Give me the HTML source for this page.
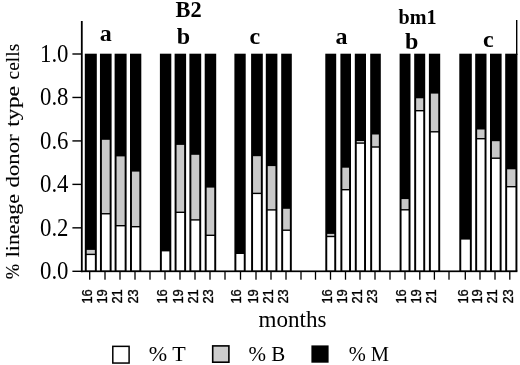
<!DOCTYPE html>
<html><head><meta charset="utf-8"><style>html,body{margin:0;padding:0;background:#fff}svg{display:block;filter:blur(0.3px)}.sf{font-family:"Liberation Serif",serif}.ss{font-family:"Liberation Sans",sans-serif}</style></head><body>
<svg width="520" height="365" viewBox="0 0 520 365">
<rect width="520" height="365" fill="#fff"/>
<rect x="84.8" y="53.7" width="12.00" height="217.60" fill="#000"/>
<rect x="86.75" y="255.10" width="8.10" height="15.60" fill="#fff"/>
<rect x="86.75" y="249.90" width="8.10" height="3.80" fill="#c9c9c9"/>
<rect x="99.95" y="53.7" width="11.65" height="217.60" fill="#000"/>
<rect x="101.90" y="214.45" width="7.75" height="56.25" fill="#fff"/>
<rect x="101.90" y="139.80" width="7.75" height="73.25" fill="#c9c9c9"/>
<rect x="114.6" y="53.7" width="12.00" height="217.60" fill="#000"/>
<rect x="116.55" y="226.40" width="8.10" height="44.30" fill="#fff"/>
<rect x="116.55" y="156.40" width="8.10" height="68.60" fill="#c9c9c9"/>
<rect x="130.0" y="53.7" width="11.30" height="217.60" fill="#000"/>
<rect x="131.95" y="227.40" width="7.40" height="43.30" fill="#fff"/>
<rect x="131.95" y="171.60" width="7.40" height="54.40" fill="#c9c9c9"/>
<rect x="159.9" y="53.7" width="11.40" height="217.60" fill="#000"/>
<rect x="161.85" y="251.40" width="7.50" height="19.30" fill="#fff"/>
<rect x="174.6" y="53.7" width="11.50" height="217.60" fill="#000"/>
<rect x="176.55" y="213.00" width="7.60" height="57.70" fill="#fff"/>
<rect x="176.55" y="144.90" width="7.60" height="66.70" fill="#c9c9c9"/>
<rect x="189.4" y="53.7" width="11.80" height="217.60" fill="#000"/>
<rect x="191.35" y="220.60" width="7.90" height="50.10" fill="#fff"/>
<rect x="191.35" y="154.80" width="7.90" height="64.40" fill="#c9c9c9"/>
<rect x="204.7" y="53.7" width="11.50" height="217.60" fill="#000"/>
<rect x="206.65" y="236.00" width="7.60" height="34.70" fill="#fff"/>
<rect x="206.65" y="187.60" width="7.60" height="47.00" fill="#c9c9c9"/>
<rect x="234.4" y="53.7" width="11.30" height="217.60" fill="#000"/>
<rect x="236.35" y="254.00" width="7.40" height="16.70" fill="#fff"/>
<rect x="251.1" y="53.7" width="11.70" height="217.60" fill="#000"/>
<rect x="253.05" y="194.10" width="7.80" height="76.60" fill="#fff"/>
<rect x="253.05" y="156.20" width="7.80" height="36.50" fill="#c9c9c9"/>
<rect x="265.8" y="53.7" width="11.60" height="217.60" fill="#000"/>
<rect x="267.75" y="210.60" width="7.70" height="60.10" fill="#fff"/>
<rect x="267.75" y="166.10" width="7.70" height="43.10" fill="#c9c9c9"/>
<rect x="281.2" y="53.7" width="10.60" height="217.60" fill="#000"/>
<rect x="283.15" y="230.90" width="6.70" height="39.80" fill="#fff"/>
<rect x="283.15" y="208.80" width="6.70" height="20.70" fill="#c9c9c9"/>
<rect x="325.3" y="53.7" width="10.90" height="217.60" fill="#000"/>
<rect x="327.25" y="237.20" width="7.00" height="33.50" fill="#fff"/>
<rect x="327.25" y="233.90" width="7.00" height="1.90" fill="#c9c9c9"/>
<rect x="340.4" y="53.7" width="10.60" height="217.60" fill="#000"/>
<rect x="342.35" y="190.40" width="6.70" height="80.30" fill="#fff"/>
<rect x="342.35" y="167.70" width="6.70" height="21.30" fill="#c9c9c9"/>
<rect x="354.8" y="53.7" width="11.20" height="217.60" fill="#000"/>
<rect x="356.75" y="143.80" width="7.30" height="126.90" fill="#fff"/>
<rect x="356.75" y="141.00" width="7.30" height="1.40" fill="#c9c9c9"/>
<rect x="370.2" y="53.7" width="10.60" height="217.60" fill="#000"/>
<rect x="372.15" y="147.70" width="6.70" height="123.00" fill="#fff"/>
<rect x="372.15" y="134.50" width="6.70" height="11.80" fill="#c9c9c9"/>
<rect x="399.6" y="53.7" width="10.90" height="217.60" fill="#000"/>
<rect x="401.55" y="210.50" width="7.00" height="60.20" fill="#fff"/>
<rect x="401.55" y="199.10" width="7.00" height="10.00" fill="#c9c9c9"/>
<rect x="414.2" y="53.7" width="11.00" height="217.60" fill="#000"/>
<rect x="416.15" y="111.40" width="7.10" height="159.30" fill="#fff"/>
<rect x="416.15" y="98.30" width="7.10" height="11.70" fill="#c9c9c9"/>
<rect x="428.9" y="53.7" width="11.30" height="217.60" fill="#000"/>
<rect x="430.85" y="132.50" width="7.40" height="138.20" fill="#fff"/>
<rect x="430.85" y="93.60" width="7.40" height="37.50" fill="#c9c9c9"/>
<rect x="459.3" y="53.7" width="12.50" height="217.60" fill="#000"/>
<rect x="461.25" y="239.60" width="8.60" height="31.10" fill="#fff"/>
<rect x="475.2" y="53.7" width="11.30" height="217.60" fill="#000"/>
<rect x="477.15" y="139.40" width="7.40" height="131.30" fill="#fff"/>
<rect x="477.15" y="129.50" width="7.40" height="8.50" fill="#c9c9c9"/>
<rect x="490.0" y="53.7" width="11.60" height="217.60" fill="#000"/>
<rect x="491.95" y="158.90" width="7.70" height="111.80" fill="#fff"/>
<rect x="491.95" y="141.20" width="7.70" height="16.30" fill="#c9c9c9"/>
<rect x="505.2" y="53.7" width="12.20" height="217.60" fill="#000"/>
<rect x="507.15" y="187.40" width="8.30" height="83.30" fill="#fff"/>
<rect x="507.15" y="169.30" width="8.30" height="16.70" fill="#c9c9c9"/>
<rect x="80.9" y="21" width="1.8" height="251.15" fill="#000"/>
<rect x="80.9" y="270.45" width="436.50" height="1.7" fill="#000"/>
<rect x="516" y="20" width="1.4" height="35" fill="#000"/>
<rect x="89.05" y="271.3" width="1.3" height="8.4" fill="#000"/>
<rect x="104.35" y="271.3" width="1.3" height="8.4" fill="#000"/>
<rect x="119.35" y="271.3" width="1.3" height="8.4" fill="#000"/>
<rect x="134.35" y="271.3" width="1.3" height="8.4" fill="#000"/>
<rect x="149.35" y="271.3" width="1.3" height="8.4" fill="#000"/>
<rect x="164.35" y="271.3" width="1.3" height="8.4" fill="#000"/>
<rect x="179.35" y="271.3" width="1.3" height="8.4" fill="#000"/>
<rect x="194.35" y="271.3" width="1.3" height="8.4" fill="#000"/>
<rect x="209.35" y="271.3" width="1.3" height="8.4" fill="#000"/>
<rect x="224.35" y="271.3" width="1.3" height="8.4" fill="#000"/>
<rect x="239.85" y="271.3" width="1.3" height="8.4" fill="#000"/>
<rect x="255.35" y="271.3" width="1.3" height="8.4" fill="#000"/>
<rect x="270.35" y="271.3" width="1.3" height="8.4" fill="#000"/>
<rect x="285.35" y="271.3" width="1.3" height="8.4" fill="#000"/>
<rect x="300.35" y="271.3" width="1.3" height="8.4" fill="#000"/>
<rect x="314.85" y="271.3" width="1.3" height="8.4" fill="#000"/>
<rect x="329.85" y="271.3" width="1.3" height="8.4" fill="#000"/>
<rect x="344.85" y="271.3" width="1.3" height="8.4" fill="#000"/>
<rect x="359.35" y="271.3" width="1.3" height="8.4" fill="#000"/>
<rect x="374.35" y="271.3" width="1.3" height="8.4" fill="#000"/>
<rect x="389.35" y="271.3" width="1.3" height="8.4" fill="#000"/>
<rect x="404.35" y="271.3" width="1.3" height="8.4" fill="#000"/>
<rect x="419.15" y="271.3" width="1.3" height="8.4" fill="#000"/>
<rect x="433.75" y="271.3" width="1.3" height="8.4" fill="#000"/>
<rect x="448.35" y="271.3" width="1.3" height="8.4" fill="#000"/>
<rect x="464.65" y="271.3" width="1.3" height="8.4" fill="#000"/>
<rect x="479.35" y="271.3" width="1.3" height="8.4" fill="#000"/>
<rect x="494.35" y="271.3" width="1.3" height="8.4" fill="#000"/>
<rect x="509.15" y="271.3" width="1.3" height="8.4" fill="#000"/>
<rect x="72.4" y="270.60" width="9" height="1.4" fill="#000"/>
<text transform="translate(40.0,279.10) scale(1,1.10)" class="sf" font-size="22.8">0.0</text>
<rect x="72.4" y="227.14" width="9" height="1.4" fill="#000"/>
<text transform="translate(40.0,235.64) scale(1,1.10)" class="sf" font-size="22.8">0.2</text>
<rect x="72.4" y="183.68" width="9" height="1.4" fill="#000"/>
<text transform="translate(40.0,192.18) scale(1,1.10)" class="sf" font-size="22.8">0.4</text>
<rect x="72.4" y="140.22" width="9" height="1.4" fill="#000"/>
<text transform="translate(40.0,148.72) scale(1,1.10)" class="sf" font-size="22.8">0.6</text>
<rect x="72.4" y="96.76" width="9" height="1.4" fill="#000"/>
<text transform="translate(40.0,105.26) scale(1,1.10)" class="sf" font-size="22.8">0.8</text>
<rect x="72.4" y="53.30" width="9" height="1.4" fill="#000"/>
<text transform="translate(40.0,61.80) scale(1,1.10)" class="sf" font-size="22.8">1.0</text>
<text transform="translate(18.6,279.3) rotate(-90)" class="sf" font-size="18" textLength="15.4" stroke="#000" stroke-width="0.12" lengthAdjust="spacingAndGlyphs">%</text>
<text transform="translate(18.6,257.2) rotate(-90)" class="sf" font-size="18" textLength="63.1" stroke="#000" stroke-width="0.12" lengthAdjust="spacingAndGlyphs">lineage</text>
<text transform="translate(18.6,187.4) rotate(-90)" class="sf" font-size="18" textLength="53.1" stroke="#000" stroke-width="0.12" lengthAdjust="spacingAndGlyphs">donor</text>
<text transform="translate(18.6,126.7) rotate(-90)" class="sf" font-size="18" textLength="40.7" stroke="#000" stroke-width="0.12" lengthAdjust="spacingAndGlyphs">type</text>
<text transform="translate(18.6,79.4) rotate(-90)" class="sf" font-size="18" textLength="35.6" stroke="#000" stroke-width="0.12" lengthAdjust="spacingAndGlyphs">cells</text>
<text transform="translate(175.5,17.4) scale(1,1.06)" class="sf" font-weight="bold" font-size="22.4">B2</text>
<text x="398.6" y="23.8" class="sf" font-weight="bold" font-size="22" textLength="38" lengthAdjust="spacingAndGlyphs">bm1</text>
<text x="99.8" y="41" class="sf" font-weight="bold" font-size="24">a</text>
<text x="176.8" y="44.3" class="sf" font-weight="bold" font-size="24">b</text>
<text x="249.4" y="43.8" class="sf" font-weight="bold" font-size="24">c</text>
<text x="335.4" y="43.8" class="sf" font-weight="bold" font-size="24">a</text>
<text x="405.0" y="49.2" class="sf" font-weight="bold" font-size="24">b</text>
<text x="483.0" y="46.8" class="sf" font-weight="bold" font-size="24">c</text>
<text transform="translate(91.5,303.6) rotate(-90)" class="ss" font-size="14.5" textLength="14.4" stroke="#000" stroke-width="0.32" lengthAdjust="spacingAndGlyphs">16</text>
<text transform="translate(107,303.6) rotate(-90)" class="ss" font-size="14.5" textLength="14.4" stroke="#000" stroke-width="0.32" lengthAdjust="spacingAndGlyphs">19</text>
<text transform="translate(122.4,303.6) rotate(-90)" class="ss" font-size="14.5" textLength="14.4" stroke="#000" stroke-width="0.32" lengthAdjust="spacingAndGlyphs">21</text>
<text transform="translate(137.5,303.6) rotate(-90)" class="ss" font-size="14.5" textLength="14.4" stroke="#000" stroke-width="0.32" lengthAdjust="spacingAndGlyphs">23</text>
<text transform="translate(167.3,303.6) rotate(-90)" class="ss" font-size="14.5" textLength="14.4" stroke="#000" stroke-width="0.32" lengthAdjust="spacingAndGlyphs">16</text>
<text transform="translate(182.8,303.6) rotate(-90)" class="ss" font-size="14.5" textLength="14.4" stroke="#000" stroke-width="0.32" lengthAdjust="spacingAndGlyphs">19</text>
<text transform="translate(197.9,303.6) rotate(-90)" class="ss" font-size="14.5" textLength="14.4" stroke="#000" stroke-width="0.32" lengthAdjust="spacingAndGlyphs">21</text>
<text transform="translate(212.5,303.6) rotate(-90)" class="ss" font-size="14.5" textLength="14.4" stroke="#000" stroke-width="0.32" lengthAdjust="spacingAndGlyphs">23</text>
<text transform="translate(240.8,303.6) rotate(-90)" class="ss" font-size="14.5" textLength="14.4" stroke="#000" stroke-width="0.32" lengthAdjust="spacingAndGlyphs">16</text>
<text transform="translate(258.2,303.6) rotate(-90)" class="ss" font-size="14.5" textLength="14.4" stroke="#000" stroke-width="0.32" lengthAdjust="spacingAndGlyphs">19</text>
<text transform="translate(273.0,303.6) rotate(-90)" class="ss" font-size="14.5" textLength="14.4" stroke="#000" stroke-width="0.32" lengthAdjust="spacingAndGlyphs">21</text>
<text transform="translate(287.5,303.6) rotate(-90)" class="ss" font-size="14.5" textLength="14.4" stroke="#000" stroke-width="0.32" lengthAdjust="spacingAndGlyphs">23</text>
<text transform="translate(332.2,303.6) rotate(-90)" class="ss" font-size="14.5" textLength="14.4" stroke="#000" stroke-width="0.32" lengthAdjust="spacingAndGlyphs">16</text>
<text transform="translate(347.3,303.6) rotate(-90)" class="ss" font-size="14.5" textLength="14.4" stroke="#000" stroke-width="0.32" lengthAdjust="spacingAndGlyphs">19</text>
<text transform="translate(362.3,303.6) rotate(-90)" class="ss" font-size="14.5" textLength="14.4" stroke="#000" stroke-width="0.32" lengthAdjust="spacingAndGlyphs">21</text>
<text transform="translate(377.4,303.6) rotate(-90)" class="ss" font-size="14.5" textLength="14.4" stroke="#000" stroke-width="0.32" lengthAdjust="spacingAndGlyphs">23</text>
<text transform="translate(406.0,303.6) rotate(-90)" class="ss" font-size="14.5" textLength="14.4" stroke="#000" stroke-width="0.32" lengthAdjust="spacingAndGlyphs">16</text>
<text transform="translate(421.1,303.6) rotate(-90)" class="ss" font-size="14.5" textLength="14.4" stroke="#000" stroke-width="0.32" lengthAdjust="spacingAndGlyphs">19</text>
<text transform="translate(436.2,303.6) rotate(-90)" class="ss" font-size="14.5" textLength="14.4" stroke="#000" stroke-width="0.32" lengthAdjust="spacingAndGlyphs">21</text>
<text transform="translate(467.5,303.6) rotate(-90)" class="ss" font-size="14.5" textLength="14.4" stroke="#000" stroke-width="0.32" lengthAdjust="spacingAndGlyphs">16</text>
<text transform="translate(482.4,303.6) rotate(-90)" class="ss" font-size="14.5" textLength="14.4" stroke="#000" stroke-width="0.32" lengthAdjust="spacingAndGlyphs">19</text>
<text transform="translate(497.3,303.6) rotate(-90)" class="ss" font-size="14.5" textLength="14.4" stroke="#000" stroke-width="0.32" lengthAdjust="spacingAndGlyphs">21</text>
<text transform="translate(512.6,303.6) rotate(-90)" class="ss" font-size="14.5" textLength="14.4" stroke="#000" stroke-width="0.32" lengthAdjust="spacingAndGlyphs">23</text>
<text transform="translate(258.5,327.3) scale(1,1.11)" class="sf" font-size="21.5" textLength="68" lengthAdjust="spacingAndGlyphs">months</text>
<rect x="112.8" y="346.35" width="16.3" height="16.7" fill="#fff" stroke="#000" stroke-width="1.5"/>
<rect x="212.7" y="345.9" width="16.2" height="16.3" fill="#cdcdcd" stroke="#000" stroke-width="1.6"/>
<rect x="311.4" y="345.4" width="17.2" height="17.3" fill="#000"/>
<text x="148.8" y="360.8" class="sf" font-size="21" textLength="37" lengthAdjust="spacingAndGlyphs">% T</text>
<text x="248.5" y="360.8" class="sf" font-size="21">% B</text>
<text x="348.7" y="360.6" class="sf" font-size="21" textLength="40.4" lengthAdjust="spacingAndGlyphs">% M</text>
</svg>
</body></html>
